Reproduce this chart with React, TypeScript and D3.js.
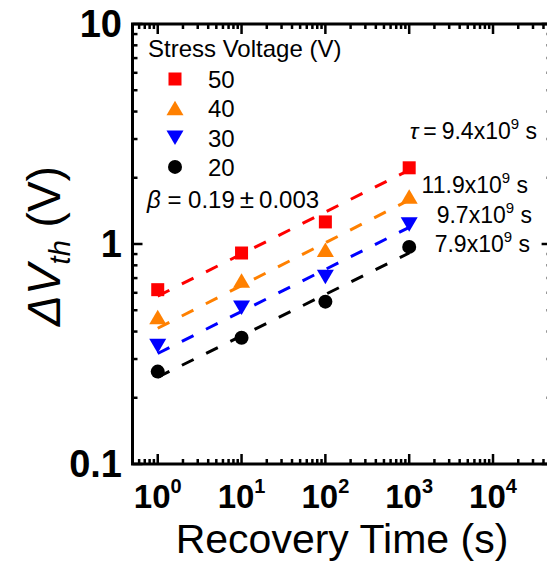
import React from "react";
import * as d3 from "d3";

const times = [1, 10, 100, 1000];
const voltages = ["50", "40", "30", "20"];
const colors = ["#ff0000", "#ff8000", "#0000ff", "#000000"];
const shapes = ["square", "up", "down", "circle"];
const v50 = [0.62, 0.91, 1.26, 2.22];
const v40 = [0.465, 0.68, 0.94, 1.64];
const v30 = [0.345, 0.515, 0.71, 1.23];
const v20 = [0.263, 0.375, 0.547, 0.97];
const seriesValues = [v50, v40, v30, v20];
const fitStart = [0.58, 0.414, 0.318, 0.248];
const fitEnd = [2.17, 1.585, 1.19, 0.91];
const fitTimes = [1, 1000];
const tauMain = "9.4";
const tauOthers = ["11.9", "9.7", "7.9"];
const xTickExps = [0, 1, 2, 3, 4];
const yTickLabels = ["0.1", "1", "10"];
const yTickValues = [0.1, 1, 10];

const W = 547;
const H = 563;
const left = 132.5;
const right = 551.6;
const top = 24;
const bottom = 464;
const FONT = "Arial, 'Liberation Sans', Helvetica, sans-serif";

function Marker({ shape, x, y, color }: { shape: string; x: number; y: number; color: string }) {
  if (shape === "square") return <rect x={x - 6.5} y={y - 6.5} width={13} height={13} fill={color} />;
  if (shape === "circle") return <circle cx={x} cy={y} r={7} fill={color} />;
  if (shape === "up")
    return <path d={`M${x},${y - 7.5}L${x + 8.5},${y + 7}L${x - 8.5},${y + 7}Z`} fill={color} />;
  return <path d={`M${x},${y + 7.5}L${x + 8.5},${y - 7}L${x - 8.5},${y - 7}Z`} fill={color} />;
}

export default function App() {
  const x = d3.scaleLog().domain([0.5, 5e4]).range([left, right]);
  const y = d3.scaleLog().domain([0.1, 10]).range([bottom, top]);

  const xMinor = x.ticks().filter((t) => t >= 0.5 && t <= 5e4);
  const yMinor = y.ticks();
  const isMajor = (t: number) => Math.abs(Math.log10(t) - Math.round(Math.log10(t))) < 1e-9;

  const line = d3
    .line<[number, number]>()
    .x((d) => x(d[0]))
    .y((d) => y(d[1]));

  return (
    <div style={{ position: "absolute", left: 0, top: 0 }}>
      <svg width={W} height={H} style={{ display: "block", background: "#fff" }} fontFamily={FONT}>
        {/* fit lines */}
        {fitStart.map((s, i) => (
          <path
            key={"fit" + i}
            d={line([
              [fitTimes[0], s],
              [fitTimes[1], fitEnd[i]],
            ]) as string}
            fill="none"
            stroke={colors[i]}
            strokeWidth={3}
            strokeDasharray="13 14"
          />
        ))}
        {/* markers */}
        {seriesValues.map((vals, i) =>
          vals.map((v, j) => (
            <Marker key={`m${i}-${j}`} shape={shapes[i]} x={x(times[j])} y={y(v)} color={colors[i]} />
          ))
        )}

        {/* x ticks bottom & top */}
        {xMinor.map((t, i) => {
          const len = isMajor(t) ? 10 : 5;
          const px = x(t);
          return (
            <g key={"xt" + i} stroke="#000" strokeWidth={2.5}>
              <line x1={px} x2={px} y1={bottom} y2={bottom - len} />
              <line x1={px} x2={px} y1={top} y2={top + len} />
            </g>
          );
        })}
        {/* y ticks left & right */}
        {yMinor.map((t, i) => {
          const len = isMajor(t) ? 10 : 5;
          const py = y(t);
          return (
            <g key={"yt" + i} stroke="#000" strokeWidth={2.5}>
              <line x1={left} x2={left + len} y1={py} y2={py} />
              <line x1={right} x2={right - len} y1={py} y2={py} />
            </g>
          );
        })}
        {/* frame */}
        <rect x={left} y={top} width={right - left} height={bottom - top} fill="none" stroke="#000" strokeWidth={3} />

        {/* y tick labels */}
        {yTickValues.map((v, i) => (
          <text key={"yl" + i} x={122} y={y(v) + 12.5} textAnchor="end" fontSize={38} fontWeight="bold">
            {yTickLabels[i]}
          </text>
        ))}
        {/* x tick labels */}
        {xTickExps.map((e) => (
          <text key={"xl" + e} x={x(Math.pow(10, e))} y={508} textAnchor="middle" fontWeight="bold" fontSize={33}>
            10
            <tspan fontSize={20} dy={-15}>
              {e}
            </tspan>
          </text>
        ))}
        {/* x title */}
        <text x={342} y={553} textAnchor="middle" fontSize={41}>
          Recovery Time (s)
        </text>
        {/* y title */}
        <text transform="translate(60,246) rotate(-90)" textAnchor="middle" fontSize={46}>
          <tspan fontStyle="italic">ΔV</tspan>
          <tspan fontStyle="italic" fontSize={29} dy={10}>
            th
          </tspan>
          <tspan dy={-10}> (V)</tspan>
        </text>

        {/* legend */}
        <text x={148} y={57} fontSize={24}>
          Stress Voltage (V)
        </text>
        {voltages.map((v, i) => (
          <g key={"lg" + i}>
            <Marker shape={shapes[i]} x={175} y={79 + i * 29.3} color={colors[i]} />
            <text x={208} y={88 + i * 29.3} fontSize={24}>
              {v}
            </text>
          </g>
        ))}
        <text x={147} y={208} fontSize={24}>
          <tspan fontStyle="italic">β</tspan> = 0.19
          <tspan dx={5} fontSize={26}>±</tspan>
          <tspan dx={5}>0.003</tspan>
        </text>

        {/* tau annotations */}
        <text x={537} y={139} textAnchor="end" fontSize={23}>
          <tspan fontStyle="italic">τ</tspan>
          <tspan dx={5}>=</tspan>
          <tspan dx={5}>{tauMain}x10</tspan>
          <tspan fontSize={15} dy={-10}>
            9
          </tspan>
          <tspan dy={10}> s</tspan>
        </text>
        {tauOthers.map((t, i) => (
          <text key={"tau" + i} x={[528, 532, 530][i]} y={[193, 223, 252][i]} textAnchor="end" fontSize={23}>
            {t}x10
            <tspan fontSize={15} dy={-10}>
              9
            </tspan>
            <tspan dy={10}> s</tspan>
          </text>
        ))}
      </svg>
    </div>
  );
}
